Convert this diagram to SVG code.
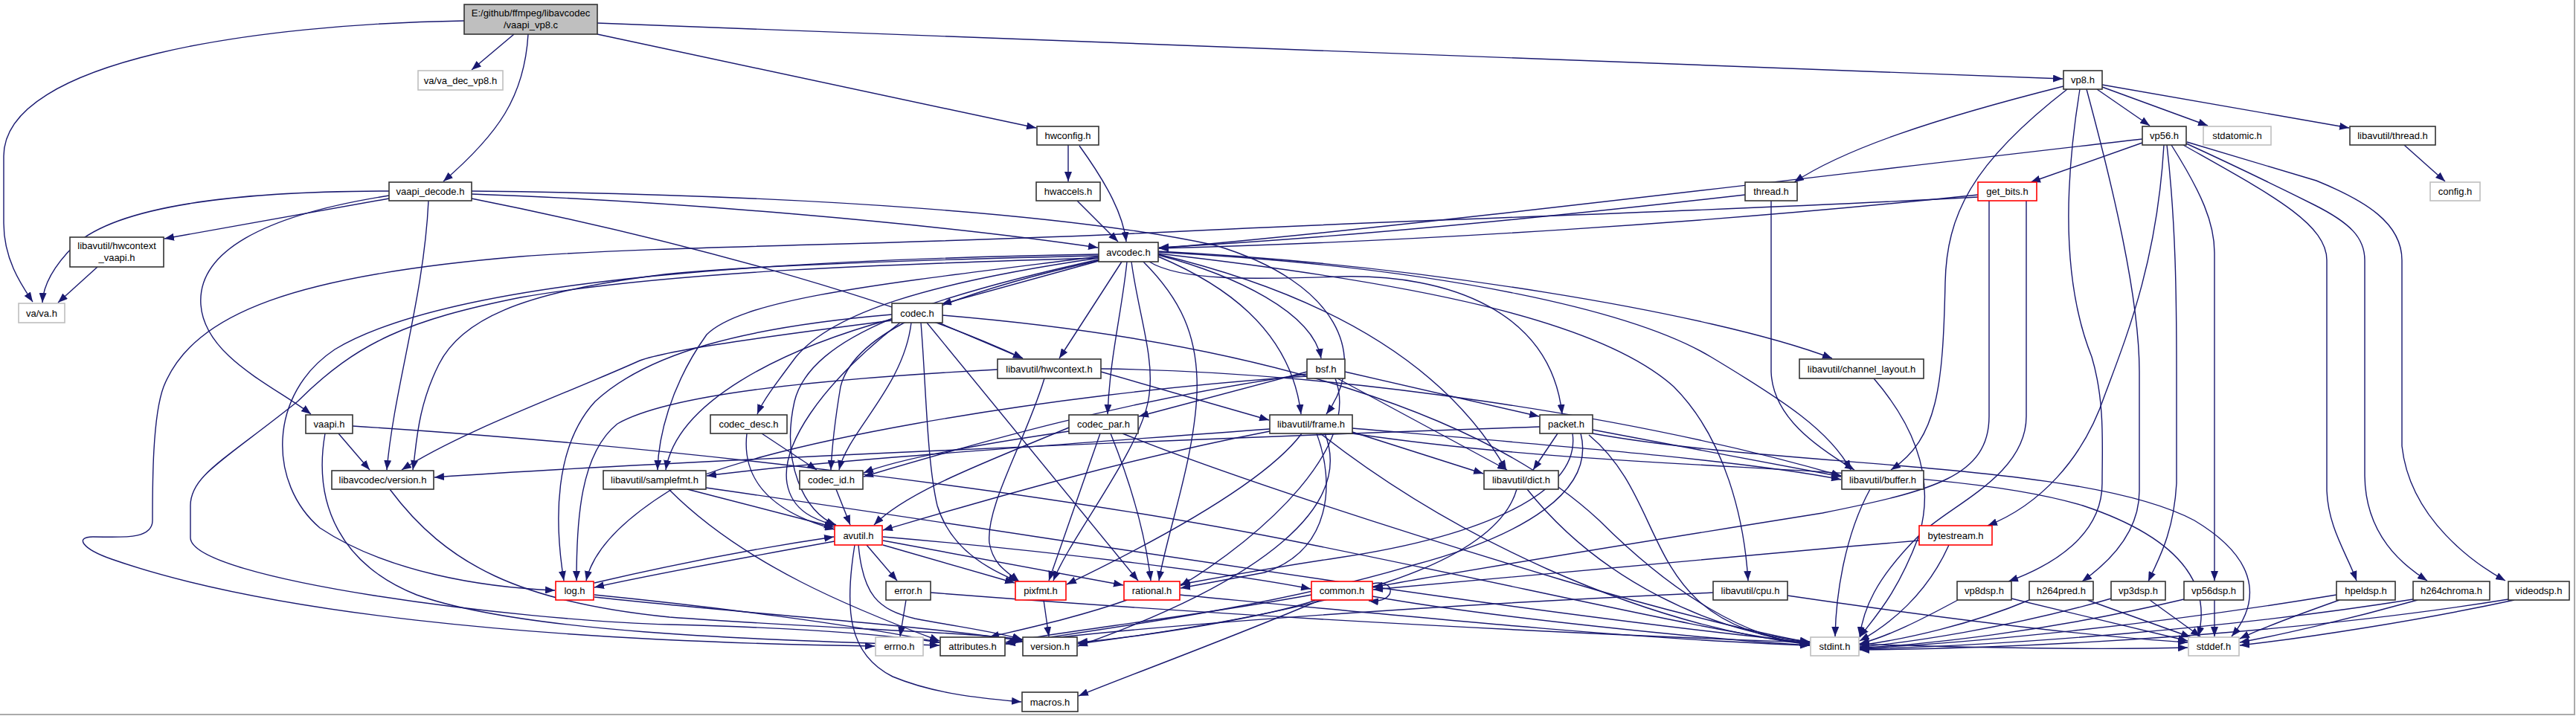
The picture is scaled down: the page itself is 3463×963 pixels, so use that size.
<svg xmlns="http://www.w3.org/2000/svg" width="3463" height="963" viewBox="0 0 3463 963">
<defs>
<marker id="a" markerUnits="userSpaceOnUse" markerWidth="13" markerHeight="10" refX="13" refY="5" orient="auto"><path d="M0,0 L13,5 L0,10 z" fill="#191970"/></marker>
<style>
.n rect{fill:#fff;stroke:#333;stroke-width:1.6}
.g rect{fill:#fff;stroke:#bfbfbf;stroke-width:1.6}
.r rect{fill:#fff;stroke:#ff0000;stroke-width:1.6}
.m rect{fill:#bfbfbf;stroke:#333;stroke-width:1.6}
text{font-family:"Liberation Sans",Arial,sans-serif;font-size:13px;fill:#000;text-anchor:middle}
#edges path{fill:none;stroke:#191970;stroke-width:1.4;marker-end:url(#a)}
</style>
</defs>
<rect x="0" y="0" width="3463" height="963" fill="#fff"/>
<line x1="3461" y1="0" x2="3461" y2="962" stroke="#aaa" stroke-width="2"/>
<line x1="0" y1="961" x2="3462" y2="961" stroke="#aaa" stroke-width="2"/>
<g id="edges">
<path d="M624,28 C350,32 5,80 5,210 L5,300 C5,350 30,385 44,406"/>
<path d="M691,46 L634,94"/>
<path d="M710,46 C705,130 670,180 596,244"/>
<path d="M803,46 L1393,172"/>
<path d="M803,31 L2773,106"/>
<path d="M523,257 C330,257 160,275 100,330 C70,360 58,385 57,407"/>
<path d="M523,267 L221,321"/>
<path d="M523,263 C350,290 265,340 270,410 C275,480 370,520 418,557"/>
<path d="M576,270 C570,400 530,520 520,632"/>
<path d="M634,261 C900,270 1250,300 1476,333"/>
<path d="M634,257 C1100,262 1450,290 1634,330 C1800,380 1840,480 1783,557"/>
<path d="M634,267 C900,320 1200,400 1375,482"/>
<path d="M131,359 L78,407"/>
<path d="M1436,195 L1436,244"/>
<path d="M1451,196 C1490,250 1510,290 1514,325"/>
<path d="M1448,270 L1503,325"/>
<path d="M2819,120 L2890,169"/>
<path d="M2826,117 L2968,169"/>
<path d="M2826,114 L3158,172"/>
<path d="M2774,116 C2600,160 2480,200 2412,245"/>
<path d="M2779,120 C2650,220 2617,290 2615,380 C2612,520 2605,590 2542,632"/>
<path d="M2796,120 C2775,250 2772,380 2812,480 C2830,540 2826,600 2826,650 C2826,720 2760,760 2700,782"/>
<path d="M2805,120 C2840,250 2876,400 2876,500 L2876,660 C2876,720 2830,760 2799,782"/>
<path d="M2880,192 L2730,245"/>
<path d="M2880,187 C2500,230 1900,305 1558,334"/>
<path d="M2909,195 C2900,350 2860,450 2830,530 C2800,620 2740,680 2672,707"/>
<path d="M2913,195 C2925,300 2926,400 2926,500 L2926,650 C2922,720 2900,755 2888,782"/>
<path d="M2919,195 C2960,260 2977,300 2977,340 L2977,781"/>
<path d="M2935,195 C3050,260 3128,300 3128,350 L3128,660 C3130,710 3155,745 3168,781"/>
<path d="M2939,193 C3020,230 3070,255 3110,275 C3160,300 3179,320 3179,350 L3179,640 C3180,720 3230,760 3263,781"/>
<path d="M2940,191 L3114,243 C3180,270 3229,300 3229,350 L3229,600 C3240,700 3330,760 3368,781"/>
<path d="M3232,195 L3287,244"/>
<path d="M2346,262 C2100,290 1800,320 1558,333"/>
<path d="M2381,270 L2381,500 C2383,560 2440,600 2493,632"/>
<path d="M2659,262 C2300,300 1900,325 1558,334"/>
<path d="M2659,265 C2300,285 1900,295 1548,313 C1200,330 900,330 700,345 C400,370 260,420 220,520 C205,560 205,650 205,700 C205,727 160,722 125,722 C100,722 110,738 150,752 C350,822 700,862 1176,869"/>
<path d="M2674,270 L2674,560 C2674,640 2600,660 2450,690 C2200,730 1950,770 1846,790"/>
<path d="M2724,270 L2724,560 C2724,640 2620,680 2580,720 C2520,780 2505,820 2500,856"/>
<path d="M455,583 L497,632"/>
<path d="M437,583 C420,680 460,760 560,800 C700,850 1000,860 1263,868"/>
<path d="M474,573 C900,600 1400,660 1750,730 C2050,790 2300,850 2432,866"/>
<path d="M524,658 C600,760 700,810 900,830 C1100,845 1300,850 1374,860"/>
<path d="M1262,434 L1375,482"/>
<path d="M1225,434 C1215,520 1140,580 1128,632"/>
<path d="M1210,434 C1100,520 1050,600 1058,650 C1065,690 1100,700 1123,707"/>
<path d="M1238,434 C1245,520 1246,620 1260,680 C1280,745 1340,770 1368,782"/>
<path d="M1246,434 L1530,781"/>
<path d="M1267,424 C1700,460 2000,560 2150,700 C2250,800 2350,860 2433,866"/>
<path d="M1199,423 C1000,440 870,475 800,540 C745,600 745,700 758,781"/>
<path d="M1199,429 C1050,470 910,540 895,632"/>
<path d="M1199,431 C1050,450 900,470 860,485 C760,530 620,580 540,632"/>
<path d="M1004,583 C995,660 1060,695 1122,712"/>
<path d="M1024,583 L1098,632"/>
<path d="M1124,658 L1143,706"/>
<path d="M1437,580 C1300,600 1200,620 1161,636"/>
<path d="M1437,575 C1330,620 1220,660 1175,706"/>
<path d="M1479,583 L1410,781"/>
<path d="M1493,583 C1520,650 1540,720 1547,781"/>
<path d="M1509,583 C1650,640 1900,720 2100,780 C2250,825 2380,855 2433,864"/>
<path d="M1404,509 C1380,590 1325,680 1330,730 C1335,760 1355,770 1370,782"/>
<path d="M1480,500 L1706,565"/>
<path d="M1480,496 C1800,500 2200,560 2475,640"/>
<path d="M1341,497 C1100,510 900,530 830,570 C780,610 775,700 775,781"/>
<path d="M1808,500 L2069,560"/>
<path d="M1798,509 L2026,632"/>
<path d="M1757,500 L1531,560"/>
<path d="M1757,503 C1500,540 1300,600 1161,641"/>
<path d="M1757,506 C1400,530 1000,600 900,660 C820,710 795,750 788,781"/>
<path d="M1795,509 C1830,600 1700,720 1587,788"/>
<path d="M1707,580 C1500,620 1300,680 1187,713"/>
<path d="M1707,577 C1400,600 1100,620 950,640"/>
<path d="M1818,576 C2100,600 2350,620 2475,645"/>
<path d="M1818,581 L1994,637"/>
<path d="M1818,583 C2200,640 2600,620 2800,680 C2950,730 2970,800 2955,856"/>
<path d="M1775,583 C1950,720 2200,840 2433,867"/>
<path d="M1770,583 C1795,650 1790,740 1700,770 L1587,791"/>
<path d="M1750,583 C1700,650 1550,730 1434,786"/>
<path d="M1781,583 C1820,680 1700,780 1449,869"/>
<path d="M2094,583 L2061,632"/>
<path d="M2141,578 L2475,641"/>
<path d="M2141,583 C2400,630 2800,620 2950,700 C3050,760 3030,820 3000,856"/>
<path d="M2136,585 C2250,680 2200,840 2433,866"/>
<path d="M2114,583 C2125,660 2000,720 1800,750 C1700,765 1620,780 1587,786"/>
<path d="M2125,583 C2145,660 2050,720 1900,760 C1700,820 1450,850 1352,866"/>
<path d="M2070,574 C1600,590 900,620 584,642"/>
<path d="M924,658 L1121,709"/>
<path d="M899,658 C1000,760 1150,820 1263,862"/>
<path d="M949,656 C1400,720 2000,820 2433,864"/>
<path d="M1165,733 L1206,781"/>
<path d="M1187,733 L1364,784"/>
<path d="M1187,727 L1510,787"/>
<path d="M1187,722 C1400,740 1650,770 1762,792"/>
<path d="M1154,733 C1160,800 1180,820 1230,832 C1300,845 1340,850 1374,860"/>
<path d="M1149,733 C1135,820 1140,880 1200,910 C1260,935 1330,940 1373,944"/>
<path d="M1122,728 C1000,750 880,772 799,790"/>
<path d="M799,784 C880,765 1000,740 1121,722"/>
<path d="M799,800 C950,815 1150,840 1263,864"/>
<path d="M799,803 C1000,825 1250,842 1374,862"/>
<path d="M1218,807 L1210,856"/>
<path d="M1251,797 C1800,840 2600,880 2941,871"/>
<path d="M1403,807 L1410,856"/>
<path d="M1515,807 C1450,830 1380,845 1330,857"/>
<path d="M1586,800 C1900,830 2200,860 2433,868"/>
<path d="M1845,785 C1878,778 1878,812 1840,808"/>
<path d="M1845,802 C2000,830 2300,860 2433,868"/>
<path d="M1770,807 C1700,830 1550,855 1449,864"/>
<path d="M1763,800 C1600,830 1420,850 1352,864"/>
<path d="M1775,807 C1650,860 1500,915 1450,936"/>
<path d="M2303,797 C1900,815 1500,845 1352,866"/>
<path d="M2403,801 C2600,830 2800,855 2941,864"/>
<path d="M2053,658 C2150,780 2300,850 2433,863"/>
<path d="M2039,658 C2010,760 1800,820 1449,866"/>
<path d="M2514,658 C2480,720 2468,800 2467,856"/>
<path d="M2519,509 C2580,580 2600,650 2580,720 C2550,800 2520,830 2500,857"/>
<path d="M2580,727 C2300,750 2000,780 1846,793"/>
<path d="M2620,733 C2590,800 2540,840 2500,862"/>
<path d="M2632,807 C2580,835 2540,855 2500,866"/>
<path d="M2704,805 L2941,862"/>
<path d="M2728,807 C2650,840 2560,860 2500,868"/>
<path d="M2806,807 L2945,857"/>
<path d="M2838,805 C2700,845 2560,865 2500,870"/>
<path d="M2890,807 L2958,856"/>
<path d="M2936,806 C2750,850 2580,868 2500,871"/>
<path d="M2977,807 L2977,856"/>
<path d="M3141,800 C2900,840 2650,865 2500,872"/>
<path d="M3145,807 C3080,830 3040,845 3011,859"/>
<path d="M3244,806 C3000,845 2700,868 2500,873"/>
<path d="M3250,807 C3150,835 3060,855 3011,864"/>
<path d="M3372,806 C3100,850 2750,872 2500,874"/>
<path d="M3380,807 C3250,835 3100,858 3011,868"/>
<path d="M1477,351 L1266,409"/>
<path d="M1508,352 L1424,482"/>
<path d="M1515,352 C1508,420 1492,480 1489,557"/>
<path d="M1521,352 C1530,420 1552,480 1545,530 C1538,600 1440,720 1416,781"/>
<path d="M1537,352 C1585,400 1612,450 1609,530 C1605,620 1568,720 1558,781"/>
<path d="M1557,345 C1640,380 1735,440 1749,557"/>
<path d="M1557,343 C1660,370 1765,420 1776,482"/>
<path d="M1557,342 C1800,400 1950,500 2025,632"/>
<path d="M1545,352 C1590,380 1700,375 1800,372 C1950,368 2085,420 2100,557"/>
<path d="M1557,338 C1900,355 2300,420 2463,482"/>
<path d="M1557,339 C1950,360 2200,420 2300,480 C2400,540 2460,580 2488,632"/>
<path d="M1557,341 C1900,380 2150,430 2250,520 C2320,590 2345,700 2350,781"/>
<path d="M1477,342 C1000,350 600,380 450,470 C360,530 360,650 430,710 C520,770 650,790 746,794"/>
<path d="M1477,344 C1200,350 950,360 870,372 C700,395 620,430 590,490 C560,550 560,600 555,632"/>
<path d="M1477,345 C1200,380 1000,400 950,450 C900,520 885,590 884,632"/>
<path d="M1477,347 C1250,380 1120,420 1070,480 C1040,520 1025,540 1018,557"/>
<path d="M1478,350 C1300,390 1150,440 1130,520 C1120,580 1118,610 1117,632"/>
<path d="M1477,349 C1250,400 1090,450 1068,540 C1050,620 1080,690 1124,706"/>
<path d="M1477,347 C1200,355 900,365 700,400 C550,430 480,460 400,540 C300,620 256,640 256,680 L256,723 C256,780 700,835 900,840 C1100,845 1200,855 1263,864"/>
</g>
<g id="n_main" class="m"><rect x="624" y="6" width="179" height="40"/><text x="713.5" y="22">E:/github/ffmpeg/libavcodec</text><text x="713.5" y="38">/vaapi_vp8.c</text></g>
<g id="n_va_dec_vp8" class="g"><rect x="562" y="95" width="114" height="26"/><text x="619" y="112.5">va/va_dec_vp8.h</text></g>
<g id="n_vaapi_decode" class="n"><rect x="523" y="245" width="111" height="25"/><text x="578.5" y="262">vaapi_decode.h</text></g>
<g id="n_hwcontext_vaapi" class="n"><rect x="94" y="319" width="126" height="40"/><text x="157" y="335">libavutil/hwcontext</text><text x="157" y="351">_vaapi.h</text></g>
<g id="n_va" class="g"><rect x="25" y="408" width="62" height="26"/><text x="56" y="425.5">va/va.h</text></g>
<g id="n_hwconfig" class="n"><rect x="1394" y="170" width="83" height="25"/><text x="1435.5" y="187">hwconfig.h</text></g>
<g id="n_hwaccels" class="n"><rect x="1393" y="245" width="86" height="25"/><text x="1436" y="262">hwaccels.h</text></g>
<g id="n_avcodec" class="n"><rect x="1477" y="326" width="80" height="26"/><text x="1517" y="343.5">avcodec.h</text></g>
<g id="n_codec" class="n"><rect x="1199" y="408" width="68" height="26"/><text x="1233" y="425.5">codec.h</text></g>
<g id="n_thread" class="n"><rect x="2346" y="245" width="70" height="25"/><text x="2381" y="262">thread.h</text></g>
<g id="n_vp8" class="n"><rect x="2774" y="95" width="52" height="25"/><text x="2800" y="112">vp8.h</text></g>
<g id="n_vp56" class="n"><rect x="2880" y="170" width="59" height="25"/><text x="2909.5" y="187">vp56.h</text></g>
<g id="n_stdatomic" class="g"><rect x="2962" y="170" width="91" height="25"/><text x="3007.5" y="187">stdatomic.h</text></g>
<g id="n_lavu_thread" class="n"><rect x="3159" y="170" width="115" height="25"/><text x="3216.5" y="187">libavutil/thread.h</text></g>
<g id="n_get_bits" class="r"><rect x="2659" y="245" width="79" height="25"/><text x="2698.5" y="262">get_bits.h</text></g>
<g id="n_config" class="g"><rect x="3267" y="245" width="67" height="25"/><text x="3300.5" y="262">config.h</text></g>
<g id="n_hwcontext" class="n"><rect x="1341" y="483" width="139" height="26"/><text x="1410.5" y="500.5">libavutil/hwcontext.h</text></g>
<g id="n_bsf" class="n"><rect x="1757" y="483" width="51" height="26"/><text x="1782.5" y="500.5">bsf.h</text></g>
<g id="n_channel_layout" class="n"><rect x="2419" y="483" width="167" height="26"/><text x="2502.5" y="500.5">libavutil/channel_layout.h</text></g>
<g id="n_vaapi" class="n"><rect x="411" y="558" width="63" height="25"/><text x="442.5" y="575">vaapi.h</text></g>
<g id="n_codec_desc" class="n"><rect x="955" y="558" width="103" height="25"/><text x="1006.5" y="575">codec_desc.h</text></g>
<g id="n_codec_par" class="n"><rect x="1437" y="558" width="93" height="25"/><text x="1483.5" y="575">codec_par.h</text></g>
<g id="n_frame" class="n"><rect x="1707" y="558" width="111" height="25"/><text x="1762.5" y="575">libavutil/frame.h</text></g>
<g id="n_packet" class="n"><rect x="2070" y="558" width="71" height="25"/><text x="2105.5" y="575">packet.h</text></g>
<g id="n_lavc_version" class="n"><rect x="446" y="633" width="137" height="25"/><text x="514.5" y="650">libavcodec/version.h</text></g>
<g id="n_samplefmt" class="n"><rect x="811" y="633" width="138" height="25"/><text x="880" y="650">libavutil/samplefmt.h</text></g>
<g id="n_codec_id" class="n"><rect x="1075" y="633" width="85" height="25"/><text x="1117.5" y="650">codec_id.h</text></g>
<g id="n_dict" class="n"><rect x="1995" y="633" width="100" height="25"/><text x="2045" y="650">libavutil/dict.h</text></g>
<g id="n_buffer" class="n"><rect x="2476" y="633" width="110" height="25"/><text x="2531" y="650">libavutil/buffer.h</text></g>
<g id="n_avutil" class="r"><rect x="1122" y="707" width="64" height="26"/><text x="1154" y="724.5">avutil.h</text></g>
<g id="n_bytestream" class="r"><rect x="2580" y="707" width="98" height="26"/><text x="2629" y="724.5">bytestream.h</text></g>
<g id="n_log" class="r"><rect x="747" y="782" width="51" height="25"/><text x="772.5" y="799">log.h</text></g>
<g id="n_error" class="n"><rect x="1191" y="782" width="60" height="25"/><text x="1221" y="799">error.h</text></g>
<g id="n_pixfmt" class="r"><rect x="1365" y="782" width="68" height="25"/><text x="1399" y="799">pixfmt.h</text></g>
<g id="n_rational" class="r"><rect x="1511" y="782" width="75" height="25"/><text x="1548.5" y="799">rational.h</text></g>
<g id="n_common" class="r"><rect x="1763" y="782" width="82" height="25"/><text x="1804" y="799">common.h</text></g>
<g id="n_cpu" class="n"><rect x="2303" y="782" width="100" height="25"/><text x="2353" y="799">libavutil/cpu.h</text></g>
<g id="n_vp8dsp" class="n"><rect x="2631" y="782" width="73" height="25"/><text x="2667.5" y="799">vp8dsp.h</text></g>
<g id="n_h264pred" class="n"><rect x="2728" y="782" width="86" height="25"/><text x="2771" y="799">h264pred.h</text></g>
<g id="n_vp3dsp" class="n"><rect x="2838" y="782" width="73" height="25"/><text x="2874.5" y="799">vp3dsp.h</text></g>
<g id="n_vp56dsp" class="n"><rect x="2936" y="782" width="80" height="25"/><text x="2976" y="799">vp56dsp.h</text></g>
<g id="n_hpeldsp" class="n"><rect x="3141" y="782" width="79" height="25"/><text x="3180.5" y="799">hpeldsp.h</text></g>
<g id="n_h264chroma" class="n"><rect x="3244" y="782" width="103" height="25"/><text x="3295.5" y="799">h264chroma.h</text></g>
<g id="n_videodsp" class="n"><rect x="3372" y="782" width="82" height="25"/><text x="3413" y="799">videodsp.h</text></g>
<g id="n_errno" class="g"><rect x="1177" y="857" width="64" height="25"/><text x="1209" y="874">errno.h</text></g>
<g id="n_attributes" class="n"><rect x="1264" y="857" width="87" height="25"/><text x="1307.5" y="874">attributes.h</text></g>
<g id="n_version" class="n"><rect x="1375" y="857" width="73" height="25"/><text x="1411.5" y="874">version.h</text></g>
<g id="n_stdint" class="g"><rect x="2434" y="857" width="65" height="25"/><text x="2466.5" y="874">stdint.h</text></g>
<g id="n_stddef" class="g"><rect x="2942" y="857" width="68" height="25"/><text x="2976" y="874">stddef.h</text></g>
<g id="n_macros" class="n"><rect x="1374" y="931" width="75" height="26"/><text x="1411.5" y="948.5">macros.h</text></g>
</svg>
